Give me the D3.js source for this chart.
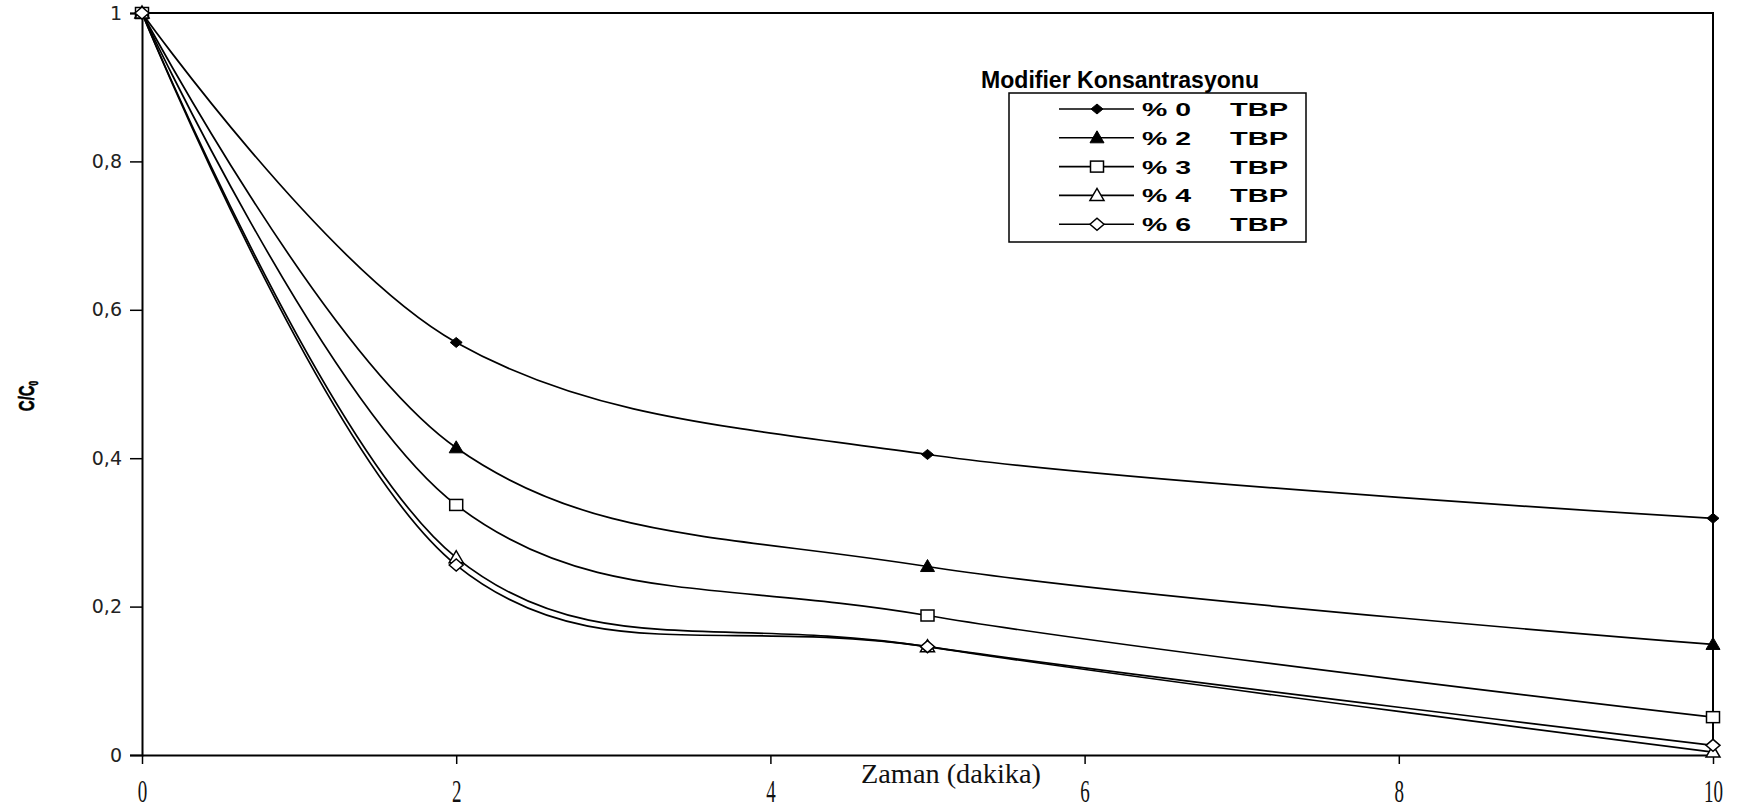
<!DOCTYPE html>
<html>
<head>
<meta charset="utf-8">
<script src="https://cdn.jsdelivr.net/npm/d3@7/dist/d3.min.js"></script>
<style>
  html, body { margin: 0; padding: 0; background: #fff; }
  svg { display: block; }
</style>
</head>
<body>
<svg id="chart" width="1746" height="810"></svg>
<script>
// Time points (minutes)
const times = [0, 2, 5, 10];

// C/C0 for each modifier concentration
const tbp0 = [1, 0.556, 0.405, 0.319];
const tbp2 = [1, 0.414, 0.254, 0.149];
const tbp3 = [1, 0.337, 0.188, 0.051];
const tbp4 = [1, 0.266, 0.146, 0.004];
const tbp6 = [1, 0.256, 0.146, 0.013];

const seriesNames = ["% 0", "% 2", "% 3", "% 4", "% 6"];
const seriesValues = [tbp0, tbp2, tbp3, tbp4, tbp6];
const markerKinds = ["diamondFilled", "triangleFilled", "squareOpen", "triangleOpen", "diamondOpen"];

const xTicks = [0, 2, 4, 6, 8, 10];
const yTicks = [0, 0.2, 0.4, 0.6, 0.8, 1];

const legendTitle = "Modifier Konsantrasyonu";
const xTitle = "Zaman (dakika)";

const svg = d3.select("#chart");
const plot = { left: 142, right: 1713, top: 13, bottom: 755 };

const x = d3.scaleLinear().domain([0, 10]).range([plot.left, plot.right]);
const y = d3.scaleLinear().domain([0, 1]).range([plot.bottom, plot.top]);

// Plot frame (top and right edges)
svg.append("path")
  .attr("d", `M${plot.left},${plot.top}H${plot.right}V${plot.bottom}`)
  .attr("fill", "none").attr("stroke", "#000").attr("stroke-width", 2);

// Y axis
const yAxis = svg.append("g")
  .attr("transform", `translate(${plot.left},0)`)
  .call(d3.axisLeft(y).tickValues(yTicks).tickSize(12).tickPadding(8)
    .tickFormat(d => d3.format("~g")(d).replace(".", ",")));
yAxis.select(".domain").attr("stroke-width", 2);
yAxis.selectAll(".tick line").attr("stroke-width", 1.5);
yAxis.selectAll("text")
  .attr("font-family", "'DejaVu Sans', sans-serif")
  .attr("font-size", 19).attr("fill", "#222");

// X axis
const xAxis = svg.append("g")
  .attr("transform", `translate(0,${plot.bottom})`)
  .call(d3.axisBottom(x).tickValues(xTicks).tickSize(9).tickSizeOuter(0).tickPadding(0));
xAxis.select(".domain").attr("stroke-width", 2);
xAxis.selectAll(".tick line").attr("stroke-width", 1.5);
xAxis.selectAll(".tick text")
  .attr("font-family", "'Liberation Serif', serif")
  .attr("font-size", 28)
  .attr("dy", 0)
  .attr("y", 0)
  .attr("transform", "translate(0,47) scale(0.68,1.15)")
  .attr("fill", "#111");

// X axis title
svg.append("text")
  .attr("x", 951).attr("y", 783)
  .attr("text-anchor", "middle")
  .attr("font-family", "'Liberation Serif', serif")
  .attr("font-size", 28)
  .attr("textLength", 180)
  .attr("lengthAdjust", "spacingAndGlyphs")
  .attr("fill", "#111")
  .text(xTitle);

// Y axis title: C/C0
const yTitle = svg.append("text")
  .attr("transform", "translate(34,396) rotate(-90) scale(0.68,1)")
  .attr("text-anchor", "middle")
  .attr("font-family", "'Liberation Sans', Arial, sans-serif")
  .attr("font-weight", "bold")
  .attr("font-size", 22)
  .attr("stroke", "#000").attr("stroke-width", 0.6)
  .attr("fill", "#000");
yTitle.append("tspan").text("C/C");
yTitle.append("tspan").attr("font-size", 12).attr("dy", 4).text("0");

// Markers
function drawMarker(g, kind, cx, cy) {
  const s = 6;
  if (kind === "diamondFilled") {
    g.append("path").attr("d", `M${cx - s},${cy}L${cx},${cy - 5}L${cx + s},${cy}L${cx},${cy + 5}Z`)
      .attr("fill", "#000").attr("stroke", "#000").attr("stroke-width", 1);
  } else if (kind === "triangleFilled") {
    g.append("path").attr("d", `M${cx - 7},${cy + 5}L${cx},${cy - 7}L${cx + 7},${cy + 5}Z`)
      .attr("fill", "#000").attr("stroke", "#000").attr("stroke-width", 1);
  } else if (kind === "squareOpen") {
    g.append("rect").attr("x", cx - 6.5).attr("y", cy - 5.5).attr("width", 13).attr("height", 11)
      .attr("fill", "#fff").attr("stroke", "#000").attr("stroke-width", 1.5);
  } else if (kind === "triangleOpen") {
    g.append("path").attr("d", `M${cx - 7},${cy + 5}L${cx},${cy - 7}L${cx + 7},${cy + 5}Z`)
      .attr("fill", "#fff").attr("stroke", "#000").attr("stroke-width", 1.5);
  } else if (kind === "diamondOpen") {
    g.append("path").attr("d", `M${cx - 7},${cy}L${cx},${cy - 6}L${cx + 7},${cy}L${cx},${cy + 6}Z`)
      .attr("fill", "#fff").attr("stroke", "#000").attr("stroke-width", 1.5);
  }
}

// Smoothed series lines
const line = d3.line()
  .x((d, i) => x(times[i]))
  .y(d => y(d))
  .curve(d3.curveCardinal.tension(0));

const seriesG = svg.append("g");
seriesValues.forEach(vals => {
  seriesG.append("path")
    .attr("d", line(vals))
    .attr("fill", "none")
    .attr("stroke", "#000")
    .attr("stroke-width", 1.7);
});

const markersG = svg.append("g");
seriesValues.forEach((vals, si) => {
  vals.forEach((v, i) => drawMarker(markersG, markerKinds[si], x(times[i]), y(v)));
});

// Legend
const legend = svg.append("g");
legend.append("text")
  .attr("x", 1120).attr("y", 88)
  .attr("text-anchor", "middle")
  .attr("font-family", "'Liberation Sans', Arial, sans-serif")
  .attr("font-weight", "bold")
  .attr("font-size", 24)
  .attr("textLength", 278)
  .attr("lengthAdjust", "spacingAndGlyphs")
  .attr("fill", "#000")
  .text(legendTitle);
legend.append("rect")
  .attr("x", 1009).attr("y", 93).attr("width", 297).attr("height", 149)
  .attr("fill", "#fff").attr("stroke", "#000").attr("stroke-width", 1.5);

seriesNames.forEach((name, i) => {
  const ry = 109 + i * 28.8;
  legend.append("line")
    .attr("x1", 1059).attr("x2", 1134).attr("y1", ry).attr("y2", ry)
    .attr("stroke", "#000").attr("stroke-width", 1.6);
  drawMarker(legend, markerKinds[i], 1097, ry);
  legend.append("text")
    .attr("x", 1142).attr("y", ry + 7)
    .attr("font-family", "'Liberation Sans', Arial, sans-serif")
    .attr("font-weight", "bold")
    .attr("font-size", 19)
    .attr("textLength", 49)
    .attr("lengthAdjust", "spacingAndGlyphs")
    .attr("fill", "#000")
    .text(name);
  legend.append("text")
    .attr("x", 1230).attr("y", ry + 7)
    .attr("font-family", "'Liberation Sans', Arial, sans-serif")
    .attr("font-weight", "bold")
    .attr("font-size", 19)
    .attr("textLength", 58)
    .attr("lengthAdjust", "spacingAndGlyphs")
    .attr("fill", "#000")
    .text("TBP");
});
</script>
</body>
</html>
